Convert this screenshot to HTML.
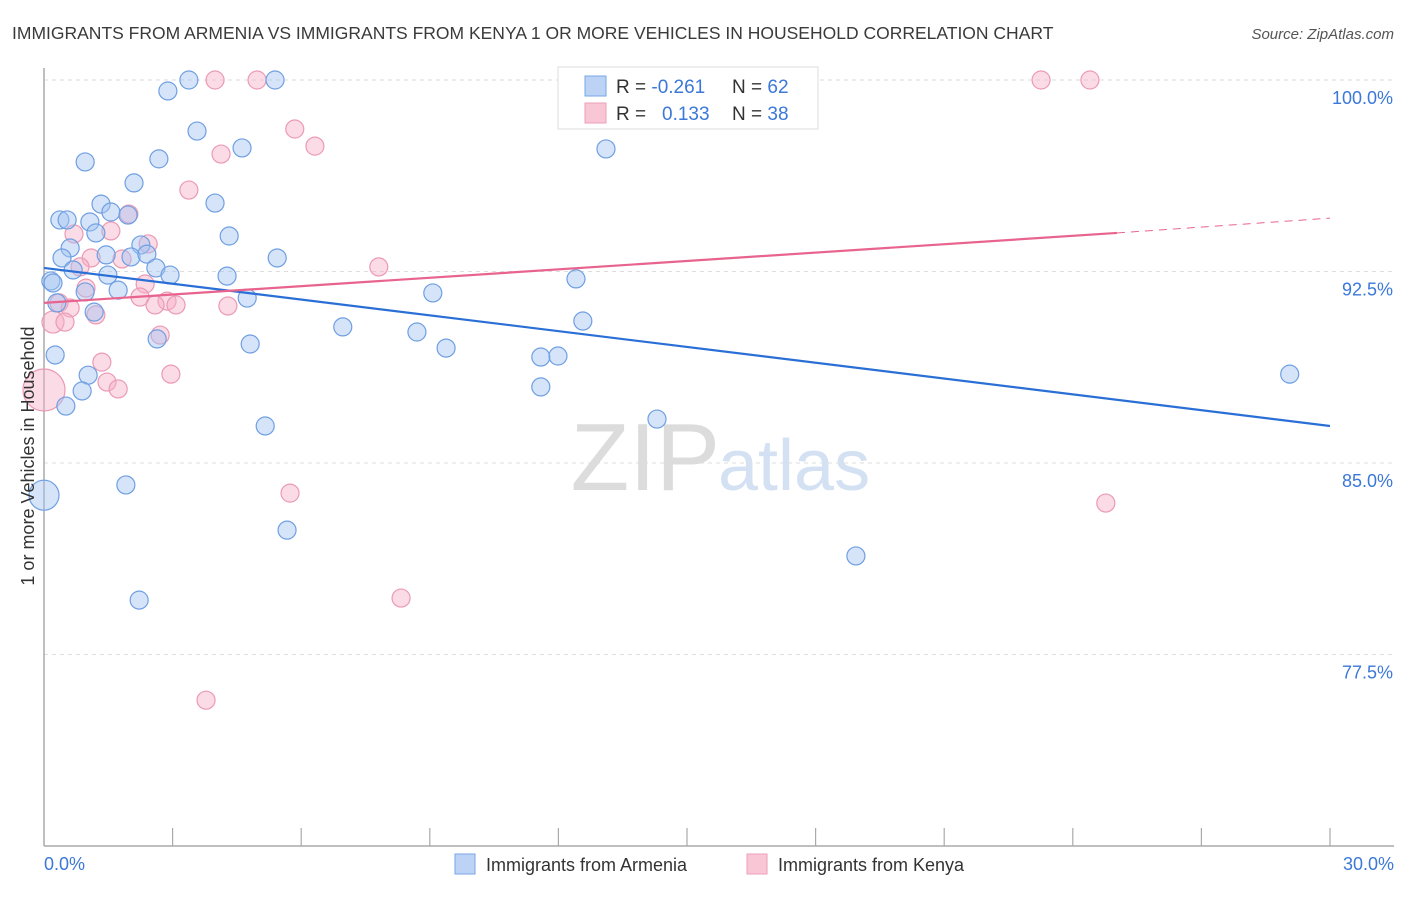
<!DOCTYPE html>
<html><head><meta charset="utf-8"><style>
body{margin:0;background:#fff;font-family:"Liberation Sans",sans-serif;}
svg text{font-family:"Liberation Sans",sans-serif;}
</style></head><body>
<svg id="chart" width="1406" height="892" xmlns="http://www.w3.org/2000/svg">
<text x="12" y="39" font-size="17.5" fill="#3a3a3a">IMMIGRANTS FROM ARMENIA VS IMMIGRANTS FROM KENYA 1 OR MORE VEHICLES IN HOUSEHOLD CORRELATION CHART</text>
<text x="1394" y="39" font-size="15" fill="#555" text-anchor="end" font-style="italic">Source: ZipAtlas.com</text>
<g id="grid"></g>
<text x="720" y="490" font-size="96" fill="#dcdcdc" text-anchor="end" font-family="Liberation Serif">ZIP</text>
<text x="718" y="490" font-size="72" fill="#d3e1f3">atlas</text>
<line x1="44" y1="68" x2="44" y2="846" stroke="#aaa" stroke-width="1.5"/>
<line x1="44" y1="846" x2="1394" y2="846" stroke="#aaa" stroke-width="1.5"/>
<g id="ticks"></g>
<g id="ylabels"></g>
<g id="pts"></g>
<g id="trends"></g>
<text x="34" y="456" font-size="18" fill="#333" text-anchor="middle" transform="rotate(-90 34 456)">1 or more Vehicles in Household</text>
<text x="44" y="870" font-size="18" fill="#3b78d8">0.0%</text>
<text x="1394" y="870" font-size="18" fill="#3b78d8" text-anchor="end">30.0%</text>
<g>
<rect x="558" y="67" width="260" height="62" fill="#fff" stroke="#ddd"/>
<rect x="585" y="76" width="21" height="20" fill="#bcd3f5" stroke="#7aa6e6"/>
<rect x="585" y="103" width="21" height="20" fill="#f9c6d5" stroke="#ee9fba"/>
<text x="616" y="93" font-size="19" fill="#333">R = <tspan fill="#3b78d8">-0.261</tspan></text>
<text x="732" y="93" font-size="19" fill="#333">N = <tspan fill="#3b78d8">62</tspan></text>
<text x="616" y="120" font-size="19" fill="#333">R = <tspan fill="#3b78d8" x="662">0.133</tspan></text>
<text x="732" y="120" font-size="19" fill="#333">N = <tspan fill="#3b78d8">38</tspan></text>
</g>
<g>
<rect x="455" y="854" width="20" height="20" fill="#bcd3f5" stroke="#7aa6e6"/>
<text x="486" y="871" font-size="18" fill="#333">Immigrants from Armenia</text>
<rect x="747" y="854" width="20" height="20" fill="#f9c6d5" stroke="#ee9fba"/>
<text x="778" y="871" font-size="18" fill="#333">Immigrants from Kenya</text>
</g>
</svg>
<script>
const yTicks=[100,92.5,85,77.5];
const yTickLabels=["100.0%","92.5%","85.0%","77.5%"];
const xTicks=[3,6,9,12,15,18,21,24,27,30];
const armeniaX=[3.38,5.39,2.89,3.57,0.96,2.68,4.62,13.11,2.10,3.99,1.33,1.56,0.37,0.54,1.96,1.07,1.21,4.32,0.61,2.26,0.42,1.45,2.03,2.40,5.44,0.68,2.61,1.49,2.94,4.27,0.16,0.21,12.41,0.96,1.73,9.07,4.74,0.30,1.17,6.97,12.57,8.70,2.64,4.81,9.38,0.26,11.59,11.99,1.03,0.89,11.59,29.06,0.51,14.30,5.16,1.91,0,5.67,18.94,2.22];
const armeniaY=[100,100,99.57,98.0,96.79,96.91,97.34,97.30,95.97,95.18,95.14,94.83,94.52,94.52,94.71,94.44,94.01,93.89,93.42,93.54,93.03,93.15,93.07,93.18,93.03,92.56,92.64,92.36,92.36,92.32,92.13,92.05,92.21,91.70,91.77,91.66,91.46,91.27,90.91,90.33,90.56,90.13,89.86,89.66,89.50,89.23,89.15,89.19,88.44,87.82,87.98,88.48,87.23,86.72,86.45,84.14,83.74,82.37,81.36,79.63];
const armeniaSize=[9,9,9,9,9,9,9,9,9,9,9,9,9,9,9,9,9,9,9,9,9,9,9,9,9,9,9,9,9,9,9,9,9,9,9,9,9,9,9,9,9,9,9,9,9,9,9,9,9,9,9,9,9,9,9,9,15,9,9,9];
const kenyaX=[3.99,4.97,23.26,24.40,5.85,6.32,4.13,3.38,1.98,1.56,0.70,2.43,1.10,1.82,0.84,7.81,2.36,0.98,0.35,2.24,2.87,3.08,4.29,2.59,0.61,1.21,0.21,0.49,2.71,1.35,2.96,1.47,1.73,0,5.74,24.77,8.33,3.78];
const kenyaY=[100,100,100,100,98.08,97.41,97.10,95.69,94.75,94.09,93.97,93.58,93.03,92.99,92.68,92.68,92.01,91.85,91.27,91.50,91.34,91.19,91.15,91.19,91.07,90.80,90.52,90.52,90.01,88.95,88.48,88.17,87.90,87.86,83.82,83.43,79.71,75.71];
const kenyaSize=[9,9,9,9,9,9,9,9,9,9,9,9,9,9,9,9,9,9,9,9,9,9,9,9,9,9,11,9,9,9,9,9,9,21,9,9,9,9];
const armeniaTrend=[92.64,86.45];
const kenyaTrend=[91.27,94.01,94.59];
const kenyaTrendSolidEnd=25.03;
const NS='http://www.w3.org/2000/svg';
const sx=v=>44+v*(1286/30);
const sy=v=>80+(100-v)*(191.5/7.5);
function mk(tag,attrs,parent){const e=document.createElementNS(NS,tag);for(const k in attrs)e.setAttribute(k,attrs[k]);parent.appendChild(e);return e;}
const grid=document.getElementById('grid'),yl=document.getElementById('ylabels');
yTicks.forEach((t,i)=>{
 const l=mk('line',{x1:44,x2:1394,y1:sy(t),y2:sy(t),stroke:'#ddd','stroke-dasharray':'4,4'},grid);
 
 
 const tx=mk('text',{x:1393,y:sy(t)+24,'font-size':18,fill:'#3b78d8','text-anchor':'end'},yl);
 tx.textContent=yTickLabels[i];
 
 
});
const tk=document.getElementById('ticks');
xTicks.forEach(t=>{
 const l=mk('line',{x1:sx(t),x2:sx(t),y1:828,y2:846,stroke:'#aaa','stroke-width':1.2},tk);
 
 
});
const pts=document.getElementById('pts');
kenyaX.forEach((x,i)=>{
 const c=mk('circle',{cx:sx(x),cy:sy(kenyaY[i]),r:kenyaSize[i],fill:'rgba(246,176,198,0.45)',stroke:'#eb9ab5','stroke-width':1.2},pts);
 
 
});
armeniaX.forEach((x,i)=>{
 const c=mk('circle',{cx:sx(x),cy:sy(armeniaY[i]),r:armeniaSize[i],fill:'rgba(164,196,242,0.45)',stroke:'#6f9fe2','stroke-width':1.2},pts);
 
 
});
const tr=document.getElementById('trends');
const bl=mk('line',{x1:sx(0),y1:sy(armeniaTrend[0]),x2:sx(30),y2:sy(armeniaTrend[1]),stroke:'#2a6fd6','stroke-width':2.2},tr);


const pl=mk('line',{x1:sx(0),y1:sy(kenyaTrend[0]),x2:sx(kenyaTrendSolidEnd),y2:sy(kenyaTrend[1]),stroke:'#e8648e','stroke-width':2.2},tr);


const pd=mk('line',{x1:sx(kenyaTrendSolidEnd),y1:sy(kenyaTrend[1]),x2:sx(30),y2:sy(kenyaTrend[2]),stroke:'#e8648e','stroke-width':1,'stroke-dasharray':'8,6'},tr);


</script>
</body></html>
